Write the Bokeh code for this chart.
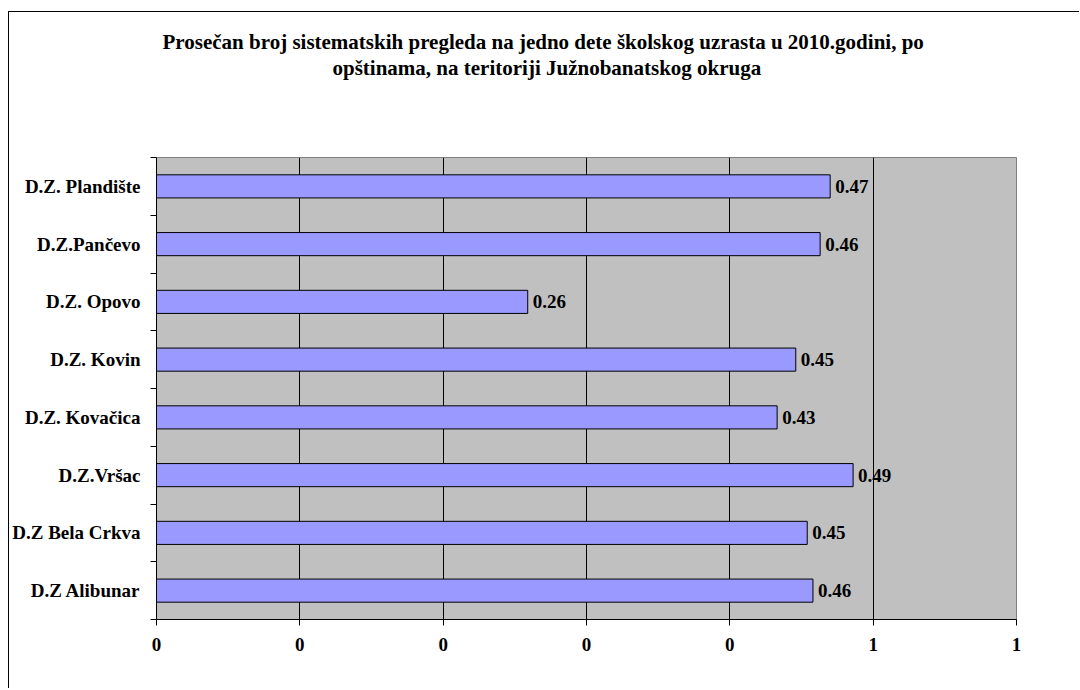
from bokeh.plotting import figure
from bokeh.models import Range1d, FixedTicker, Title
from bokeh.core.properties import value
from bokeh.embed import file_html
from bokeh.resources import INLINE

# Data (bottom to top, as in the chart)
categories = ["D.Z Alibunar", "D.Z Bela Crkva", "D.Z.Vršac", "D.Z. Kovačica",
              "D.Z. Kovin", "D.Z. Opovo", "D.Z.Pančevo", "D.Z. Plandište"]
values = [0.458, 0.454, 0.486, 0.433, 0.446, 0.259, 0.463, 0.470]
x_ticks = [0, 0.1, 0.2, 0.3, 0.4, 0.5, 0.6]
x_tick_labels = ["0", "0", "0", "0", "0", "1", "1"]
title_lines = ["Prosečan broj sistematskih pregleda na jedno dete školskog uzrasta u 2010.godini, po",
               "opštinama, na teritoriji Južnobanatskog okruga"]

FONT = "Liberation Serif"
FS = "19px"
TFS = "21px"
n = len(categories)
centers = [i + 0.5 for i in range(n)]
bounds = [float(i) for i in range(n + 1)]
labels = [f"{v:.2f}" for v in values]

p = figure(width=1071, height=677, output_backend="svg", toolbar_location=None,
           x_range=Range1d(x_ticks[0], x_ticks[-1]), y_range=Range1d(0, n),
           min_border_left=146, min_border_right=64, min_border_top=145, min_border_bottom=70)
p.styles = {"border-left": "1px solid black", "border-top": "1px solid black",
            "margin-top": "11px", "margin-left": "8px"}

p.background_fill_color = "#C0C0C0"
p.border_fill_color = "white"
p.outline_line_color = "#808080"
p.outline_line_width = 1

p.hbar(y=centers, right=values, left=0, height=0.4, fill_color="#9999FF",
       line_color="black", line_width=1)
p.text(x=values, y=centers, text=labels, x_offset=5, text_baseline="middle",
       text_align="left", text_font=value(FONT), text_font_style="bold",
       text_font_size=FS, text_color="black")

# x axis
p.xaxis.ticker = FixedTicker(ticks=x_ticks, minor_ticks=[])
p.xaxis.major_label_overrides = {t: l for t, l in zip(x_ticks, x_tick_labels)}
p.xaxis.major_tick_out = 6
p.xaxis.major_tick_in = 0
p.xaxis.axis_line_color = "black"
p.xaxis.major_tick_line_color = "black"
p.xaxis.major_label_text_font = FONT
p.xaxis.major_label_text_font_style = "bold"
p.xaxis.major_label_text_font_size = FS
p.xaxis.major_label_text_color = "black"
p.xaxis.major_label_standoff = 12

# y axis (labels at centers, tick marks at category boundaries)
p.yaxis.ticker = FixedTicker(ticks=centers, minor_ticks=bounds)
p.yaxis.major_label_overrides = {c: cat for c, cat in zip(centers, categories)}
p.yaxis.major_tick_out = 0
p.yaxis.major_tick_in = 0
p.yaxis.minor_tick_out = 6
p.yaxis.minor_tick_in = 0
p.yaxis.minor_tick_line_color = "black"
p.yaxis.axis_line_color = "black"
p.yaxis.major_label_text_font = FONT
p.yaxis.major_label_text_font_style = "bold"
p.yaxis.major_label_text_font_size = FS
p.yaxis.major_label_text_color = "black"
p.yaxis.major_label_standoff = 10

# grid
p.xgrid.ticker = FixedTicker(ticks=x_ticks, minor_ticks=[])
p.xgrid.grid_line_color = "black"
p.xgrid.grid_line_width = 1
p.ygrid.visible = False

# title: two lines plus a spacer between the title and the plot area
p.title.text = title_lines[0]
p.title.align = "left"
p.title.offset = 6
p.title.standoff = 0
p.title.text_font = FONT
p.title.text_font_style = "bold"
p.title.text_font_size = TFS
p.title.text_color = "black"

spacer = Title(text=" ", text_font_size="68px", standoff=0)
line2 = Title(text=title_lines[1], align="left", offset=176, standoff=0,
              text_font=FONT, text_font_style="bold", text_font_size=TFS, text_color="black")
p.add_layout(spacer, "above")
p.add_layout(line2, "above")

open("out.html", "w").write(file_html(p, INLINE))
